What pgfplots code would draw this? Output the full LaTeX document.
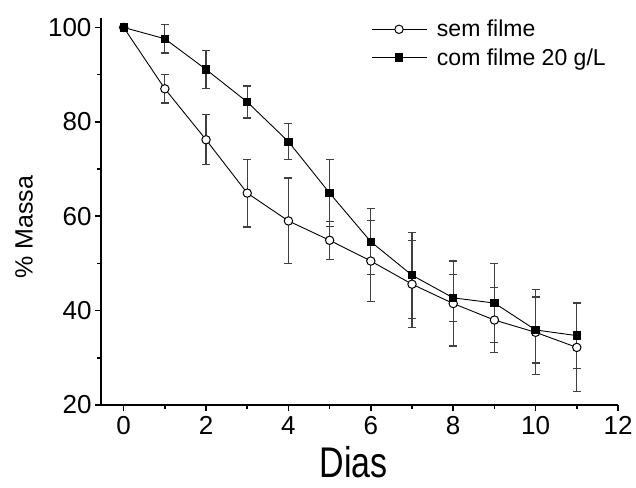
\documentclass[border=0pt]{standalone}
\usepackage{fontspec}
\setmainfont{Liberation Sans}
\usepackage{graphicx}
\usepackage{pgfplots}
\pgfplotsset{compat=1.18}
\pgfplotstableread{
x y e
0 100 0
1 87.0 3.0
2 76.2 5.3
3 64.9 7.2
4 59.0 9.1
5 54.9 4.0
6 50.5 8.6
7 45.6 9.2
8 41.5 9.0
9 38.0 6.9
10 35.4 9.0
11 32.2 9.4
}\sem
\pgfplotstableread{
x y e
0 100 0
1 97.6 3.0
2 91.1 4.0
3 84.2 3.4
4 75.8 3.8
5 64.9 7.1
6 54.6 7.0
7 47.5 9.1
8 42.7 5.0
9 41.6 8.4
10 35.9 7.0
11 34.7 7.0
}\com
\begin{document}
\begin{tikzpicture}
\begin{axis}[
 scale only axis, width=517pt, height=387pt,
 xmin=-0.55, xmax=12, ymin=20, ymax=102,
 axis x line*=bottom, axis y line*=left,
 axis line style={line width=1.8pt,-},
 xtick={0,2,...,12}, ytick={20,40,...,100},
 minor x tick num=1, minor y tick num=1,
 tick align=outside,
 major tick length=6pt, minor tick length=3.5pt,
 every tick/.style={black, line width=1.5pt},
 tick label style={font=\fontsize{26}{26}\selectfont},
 xticklabel style={yshift=-2pt},
 /pgf/number format/assume math mode=true,
 xlabel={\scalebox{1.03}[1.3]{\fontsize{33}{33}\selectfont Dias}},
 ylabel={\fontsize{25}{25}\selectfont\% Massa},
 xlabel style={at={(axis description cs:0.489,-0.148)}, anchor=center},
 ylabel style={at={(axis description cs:-0.149,0.46)}, anchor=center},
 clip=false,
 legend style={draw=none, fill=none, at={(axis description cs:0.522,1.0)}, anchor=north west, font=\fontsize{23}{23}\selectfont, row sep=6pt, inner sep=0pt},
 legend cell align=left,
 legend image code/.code={\draw[mark repeat=2,mark phase=2,#1] plot coordinates {(0pt,0pt) (27.5pt,0pt) (55pt,0pt)};},
]
\coordinate (O) at (rel axis cs:0,0);
\addplot[black, line width=0.9pt, mark=*, mark size=4.2pt, mark options={fill=white, draw=black, line width=1pt, solid},
  error bars/.cd, y dir=both, y explicit,
  error bar style={black!75, line width=1.2pt},
  error mark options={rotate=90, mark size=4pt, black!75, line width=1.2pt}]
  table[x=x, y=y, y error=e] {\sem};
\addlegendentry{\hspace{8pt}sem filme}
\addplot[black, line width=0.9pt, mark=square*, mark size=3.7pt, mark options={fill=black, draw=black, solid},
  error bars/.cd, y dir=both, y explicit,
  error bar style={black!75, line width=1.2pt},
  error mark options={rotate=90, mark size=4pt, black!75, line width=1.2pt}]
  table[x=x, y=y, y error=e] {\com};
\addlegendentry{\hspace{8pt}com filme 20 g/L}
\end{axis}
\pgfresetboundingbox
\path[use as bounding box] ([shift={(-101pt,-82pt)}]O) rectangle ([shift={(535pt,405pt)}]O);
\end{tikzpicture}
\end{document}
